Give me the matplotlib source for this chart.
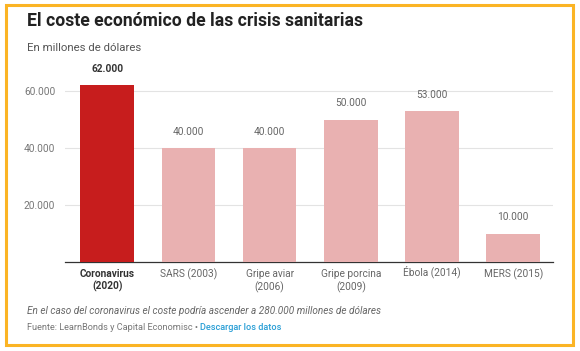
import matplotlib.pyplot as plt
from matplotlib.patches import Rectangle
from matplotlib.transforms import ScaledTranslation

plt.rcParams['font.family'] = ['Roboto', 'DejaVu Sans']

categories = ['Coronavirus\n(2020)', 'SARS (2003)', 'Gripe aviar\n(2006)',
              'Gripe porcina\n(2009)', 'Ébola (2014)', 'MERS (2015)']
values = [62000, 40000, 40000, 50000, 53000, 10000]
value_labels = ['62.000', '40.000', '40.000', '50.000', '53.000', '10.000']
yticks = [20000, 40000, 60000]
ytick_labels = ['20.000', '40.000', '60.000']

W, H = 580, 351
fig = plt.figure(figsize=(W / 100, H / 100), dpi=100)

# orange frame
fig.patches.append(Rectangle((6 / W, 1 - 345 / H), 567 / W, 340 / H,
                             transform=fig.transFigure, fill=False,
                             edgecolor='#FBB424', linewidth=2.2))

# axes: x 65..553, y 0 at 262, 60000 at 91
ppk = 171 / 60000
ax = fig.add_axes([65 / W, 1 - 262 / H, (553 - 65) / W, 190 / H])
ax.set_ylim(0, 190 / ppk)
ax.set_xlim(-0.52, 5.49)

colors = ['#C71D1D'] + ['#E9B1B1'] * 5
x = list(range(len(values)))
ax.bar(x, values, width=0.66, color=colors, zorder=3)

for i, (v, lab) in enumerate(zip(values, value_labels)):
    ax.annotate(lab, (i, v), xytext=(0, 8), textcoords='offset points',
                ha='center', va='bottom', fontsize=7.3,
                color='#333333' if i == 0 else '#666666',
                fontweight='bold' if i == 0 else 'normal')

ax.set_yticks(yticks)
ax.set_yticklabels(ytick_labels)
ax.tick_params(axis='y', length=0, labelsize=7.3, labelcolor='#777777', pad=7)
ax.grid(axis='y', color='#E3E3E3', linewidth=0.8, zorder=0)

ax.set_xticks(x)
ax.set_xticklabels(categories, linespacing=1.25)
ax.tick_params(axis='x', length=0, labelsize=7.3, labelcolor='#666666', pad=5)
xl = ax.get_xticklabels()
xl[0].set_fontweight('bold')
xl[0].set_color('#333333')
# accent on É pushes the label down, lift it back
xl[4].set_transform(xl[4].get_transform() + ScaledTranslation(0, 2.5 / 72, fig.dpi_scale_trans))

for s in ['top', 'right', 'left']:
    ax.spines[s].set_visible(False)
ax.spines['bottom'].set_color('#333333')
ax.spines['bottom'].set_linewidth(0.9)

fig.text(27 / W, 1 - 21 / H, 'El coste económico de las crisis sanitarias',
         fontsize=12.7, fontweight='bold', color='#222222', va='center')
fig.text(27 / W, 1 - 48 / H, 'En millones de dólares',
         fontsize=8.2, color='#555555', va='center')
fig.text(27 / W, 1 - 311 / H,
         'En el caso del coronavirus el coste podría ascender a 280.000 millones de dólares',
         fontsize=7.2, color='#666666', style='italic', va='center')
t = fig.text(27 / W, 1 - 327 / H, 'Fuente: LearnBonds y Capital Economisc • ',
             fontsize=6.6, color='#777777', va='center')
fig.canvas.draw()
bb = t.get_window_extent()
fig.text(bb.x1 / W, 1 - 327 / H, 'Descargar los datos', fontsize=6.6,
         color='#2A9FD6', fontweight='medium', va='center')

fig.savefig('out.png', dpi=100, facecolor='white')
